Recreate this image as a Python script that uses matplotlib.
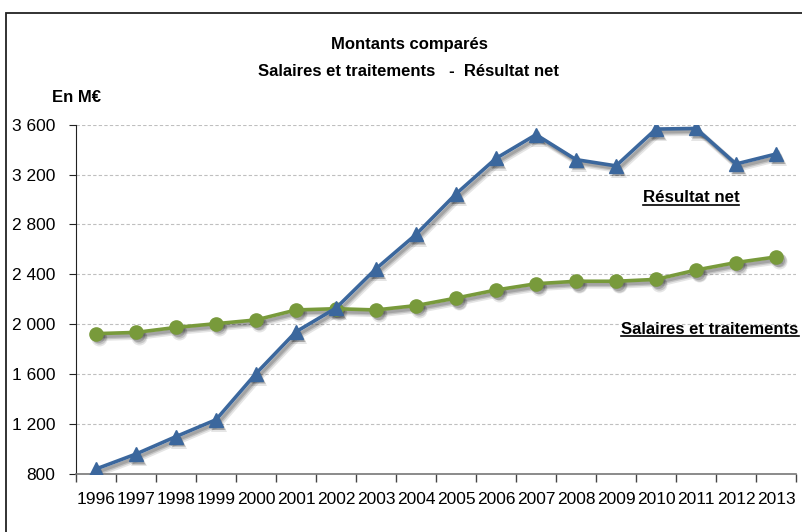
import matplotlib
matplotlib.use("Agg")
import matplotlib.pyplot as plt
from matplotlib.ticker import FixedLocator, FuncFormatter
from matplotlib.patches import Rectangle
from matplotlib.lines import Line2D
import matplotlib.transforms as mtransforms

years = [str(y) for y in range(1996, 2014)]
resultat_net = [840, 960, 1100, 1235, 1605, 1940, 2130, 2445, 2720, 3045,
                3330, 3520, 3320, 3270, 3565, 3570, 3285, 3365]
salaires = [1925, 1935, 1975, 2005, 2035, 2115, 2125, 2115, 2150, 2210,
            2275, 2325, 2345, 2345, 2360, 2435, 2495, 2540]
yticks = [800, 1200, 1600, 2000, 2400, 2800, 3200, 3600]

FONT = ['Liberation Sans', 'DejaVu Sans']
plt.rcParams['font.family'] = FONT

BLUE = '#3B679D'
GREEN = '#789A3B'

W, H = 803, 532
fig = plt.figure(figsize=(W / 100, H / 100), dpi=100)
fig.patch.set_facecolor('white')

# outer frame
fig.add_artist(Rectangle((6 / W, -0.05), 1.2, 1 - 13 / H + 0.05,
                         transform=fig.transFigure, fill=False,
                         edgecolor='#222222', linewidth=1.3))

ax = fig.add_axes([76 / W, 1 - 474 / H, (796 - 76) / W, (474 - 124.7) / H])
x = list(range(len(years)))

# soft drop shadows
for dx, dy, a, lw in [(2.5, -3.0, 0.10, 4.6), (2.0, -2.5, 0.14, 3.4), (1.6, -2.0, 0.16, 2.6)]:
    tr = mtransforms.offset_copy(ax.transData, fig=fig, x=dx, y=dy, units='points')
    for series, mk in [(salaires, 'o'), (resultat_net, '^')]:
        ax.plot(x, series, color='black', alpha=a, lw=lw, marker=mk, ms=9.5 + lw - 2.6,
                markeredgewidth=0, transform=tr, zorder=2)

ax.plot(x, salaires, color=GREEN, lw=2.6, marker='o', ms=9.5,
        markeredgecolor=GREEN, zorder=3)
ax.plot(x, resultat_net, color=BLUE, lw=2.6, marker='^', ms=9.5,
        markeredgecolor=BLUE, zorder=4)

ax.set_xlim(-0.5, len(years) - 0.5)
ax.set_ylim(800, 3600)
ax.set_yticks(yticks)
ax.yaxis.set_major_formatter(FuncFormatter(lambda v, p: f"{int(v):,}".replace(',', ' ')))
ax.set_xticks(x)
ax.set_xticklabels(years)
ax.xaxis.set_minor_locator(FixedLocator([i - 0.5 for i in range(len(years) + 1)]))
ax.tick_params(axis='x', which='major', length=0, pad=13, labelsize=12.5)
ax.tick_params(axis='x', which='minor', length=6, direction='out', color='#444444', width=1)
ax.tick_params(axis='y', length=5, direction='out', color='#222222', pad=10, labelsize=12.5)

ax.grid(axis='y', linestyle=(0, (3, 2)), color='#BFBFBF', linewidth=0.8)
ax.set_axisbelow(True)
for s in ['top', 'right']:
    ax.spines[s].set_visible(False)
ax.spines['left'].set_color('#222222')
ax.spines['bottom'].set_color('#777777')
ax.spines['bottom'].set_linewidth(1.2)

fig.text(409 / W, 1 - 45 / H, 'Montants comparés', ha='center', va='center',
         fontsize=12, fontweight='bold')
fig.text(409 / W, 1 - 71 / H, 'Salaires et traitements   -  Résultat net', ha='center',
         va='center', fontsize=12, fontweight='bold')
fig.text(77 / W, 1 - 98 / H, 'En M€', ha='center', va='center', fontsize=12, fontweight='bold')

lab1 = fig.text(691 / W, 1 - 198 / H, 'Résultat net', ha='center', va='center',
                fontsize=12.2, fontweight='bold')
lab2 = fig.text(710 / W, 1 - 329 / H, 'Salaires et traitements', ha='center', va='center',
                fontsize=12, fontweight='bold')

r = fig.canvas.get_renderer()
for t in (lab1, lab2):
    bb = t.get_window_extent(renderer=r)
    yl = (bb.y0 + 1) / H
    fig.add_artist(Line2D([bb.x0 / W, bb.x1 / W], [yl, yl], transform=fig.transFigure,
                          color='black', lw=1.2))

fig.savefig('out.png', dpi=100)
